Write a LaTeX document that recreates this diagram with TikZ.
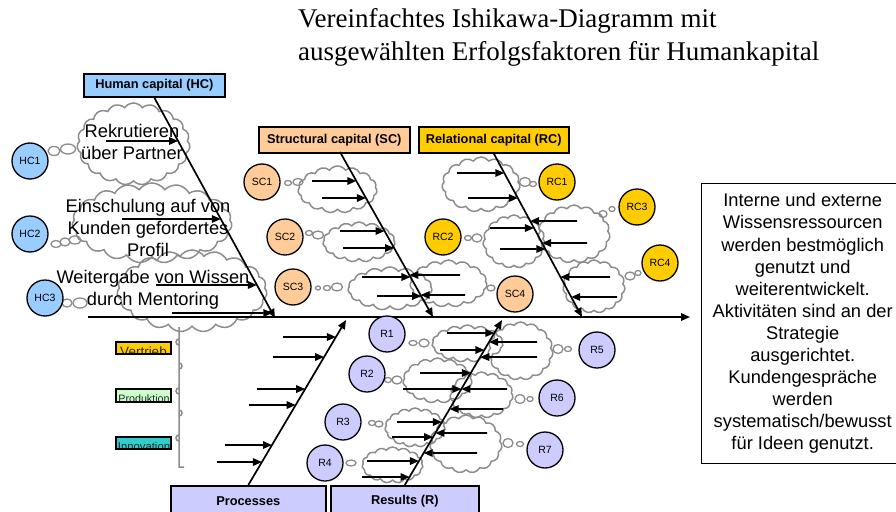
\documentclass[tikz,border=0pt]{standalone}
\usepackage{fontspec}
\setmainfont{Liberation Serif}
\newfontfamily\arialf{Liberation Sans}
\usetikzlibrary{shapes.symbols,arrows.meta}

\definecolor{hcblue}{HTML}{99CCFF}
\definecolor{scpeach}{HTML}{FFCC99}
\definecolor{rcgold}{HTML}{FFCC00}
\definecolor{rlav}{HTML}{CCCCFF}
\definecolor{prodgreen}{HTML}{CCFFCC}
\definecolor{innoteal}{HTML}{33CCCC}
\definecolor{puffgray}{HTML}{8C8C8C}

\tikzset{
  catbox/.style={draw=black, line width=1.6pt, anchor=north west, inner sep=0pt,
    font=\arialf\bfseries\fontsize{12.8}{14}\selectfont},
  factor/.style={circle, draw=black, line width=1.3pt, minimum size=36pt, inner sep=0pt,
    font=\arialf\fontsize{10.5}{12}\selectfont},
  puff/.style={cloud, draw=puffgray, line width=1.5pt, cloud puffs=15,
    cloud puff arc=110, inner sep=0pt},
  bigpuff/.style={puff, cloud puffs=19},
  bead/.style={draw=puffgray, line width=1.3pt},
  bone/.style={line width=1.7pt, -{Triangle[length=9pt,width=7.5pt]}},
  twig/.style={line width=1.6pt, -{Triangle[length=9pt,width=7.5pt]}},
  cause/.style={align=center, font=\arialf\fontsize{18.3}{22}\selectfont, inner sep=0pt},
  legendtxt/.style={anchor=base, inner sep=0pt, text=black!85},
  legendframe/.style={draw=black, line width=1.4pt},
}

% a horizontal cause arrow that ends where it meets the bone #3--#4
\newcommand\twig[4]{%
  \coordinate (twS) at (#1,#2);
  \coordinate (twR) at ({#1+10},#2);
  \draw[twig] (twS) -- (intersection of twS--twR and #3--#4);
}

\begin{document}
\begin{tikzpicture}[x=1pt,y=-1pt]
\useasboundingbox (0,0) rectangle (896,511);
\clip (0,0) rectangle (896,511);

% title
\node[anchor=base west, font=\fontsize{27}{32}\selectfont, inner sep=0pt] (title1) at (298,28)
  {Vereinfachtes Ishikawa-Diagramm mit};
\node[anchor=base west, font=\fontsize{27}{32}\selectfont, inner sep=0pt] (title2) at (298,60)
  {ausgewählten Erfolgsfaktoren für Humankapital};

% clouds
\node[bigpuff, minimum width=113pt, minimum height=82pt] (cHC1) at (133.5,144) {};
\node[bigpuff, minimum width=160pt, minimum height=80pt] (cHC2) at (152,223) {};
\node[bigpuff, minimum width=150pt, minimum height=82pt] (cHC3) at (192,291) {};
\node[puff, minimum width=79pt, minimum height=47pt] (cSC1) at (337.5,189.5) {};
\node[puff, minimum width=72pt, minimum height=40pt] (cSC2) at (359,242) {};
\node[puff, minimum width=84pt, minimum height=43pt] (cSC3) at (390,288.5) {};
\node[puff, minimum width=77pt, minimum height=47pt] (cSC4) at (448.5,283.5) {};
\node[puff, minimum width=78pt, minimum height=55pt] (cRC1) at (481,184.5) {};
\node[puff, minimum width=62pt, minimum height=53pt] (cRC2) at (514,241.5) {};
\node[puff, minimum width=72pt, minimum height=58pt] (cRC3) at (574,234) {};
\node[puff, minimum width=62pt, minimum height=53pt] (cRC4) at (594,286.5) {};
\node[puff, minimum width=71pt, minimum height=37pt] (cR1) at (467.5,343.5) {};
\node[puff, minimum width=65pt, minimum height=58pt] (cR5) at (520.5,351) {};
\node[puff, minimum width=69pt, minimum height=45pt] (cR2) at (437.5,380.5) {};
\node[puff, minimum width=63pt, minimum height=46pt] (cR6) at (481.5,395) {};
\node[puff, minimum width=60pt, minimum height=39pt] (cR3) at (415,427.5) {};
\node[puff, minimum width=72pt, minimum height=58pt] (cR7) at (466,444) {};
\node[puff, minimum width=61pt, minimum height=36pt] (cR4) at (392.5,465) {};

% bubble tails linking factors to their clouds
\draw[bead] (54,151) ellipse [x radius=6, y radius=4.5];
\draw[bead] (68,149) ellipse [x radius=7.5, y radius=5];
\draw[bead] (56,244) ellipse [x radius=5, y radius=3.5];
\draw[bead] (65,242) ellipse [x radius=5, y radius=4];
\draw[bead] (75,240) ellipse [x radius=6, y radius=4];
\draw[bead] (67,303) ellipse [x radius=5, y radius=4];
\draw[bead] (80,303) ellipse [x radius=7, y radius=5];
\draw[bead] (288,183) ellipse [x radius=3.5, y radius=2.5];
\draw[bead] (298,182) ellipse [x radius=5, y radius=3.5];
\draw[bead] (309,233) ellipse [x radius=3.5, y radius=2.5];
\draw[bead] (318,235) ellipse [x radius=5.5, y radius=4];
\draw[bead] (318,288) ellipse [x radius=2.5, y radius=2];
\draw[bead] (327,288) ellipse [x radius=3.5, y radius=2.5];
\draw[bead] (337,287) ellipse [x radius=5.5, y radius=4];
\draw[bead] (491,288) ellipse [x radius=4, y radius=3];
\draw[bead] (525,182) ellipse [x radius=5.5, y radius=4.5];
\draw[bead] (533,184) ellipse [x radius=3.5, y radius=2.5];
\draw[bead] (468,238) ellipse [x radius=3.5, y radius=2.5];
\draw[bead] (477,238) ellipse [x radius=5, y radius=4];
\draw[bead] (603,214) ellipse [x radius=4, y radius=3.5];
\draw[bead] (612,209) ellipse [x radius=3, y radius=2.5];
\draw[bead] (630,276) ellipse [x radius=5, y radius=4];
\draw[bead] (638,273) ellipse [x radius=3, y radius=2.5];
\draw[bead] (413,343) ellipse [x radius=4, y radius=2.5];
\draw[bead] (424,343) ellipse [x radius=5, y radius=4];
\draw[bead] (388,380) ellipse [x radius=3.5, y radius=2.5];
\draw[bead] (397,380) ellipse [x radius=5, y radius=4];
\draw[bead] (372,423) ellipse [x radius=3.5, y radius=2.5];
\draw[bead] (379,424) ellipse [x radius=4, y radius=3];
\draw[bead] (351,463) ellipse [x radius=5, y radius=3];
\draw[bead] (558,349) ellipse [x radius=5, y radius=4.5];
\draw[bead] (568,349) ellipse [x radius=3.5, y radius=2.5];
\draw[bead] (520,399) ellipse [x radius=5, y radius=4.5];
\draw[bead] (530,399) ellipse [x radius=3, y radius=2.5];
\draw[bead] (508,443) ellipse [x radius=5, y radius=4.5];
\draw[bead] (520,444) ellipse [x radius=3.5, y radius=2.5];

% grey brace below the last human-capital cloud
\draw[draw=puffgray, line width=1.5pt]
  (179,327) -- (179,345) arc[start angle=90, end angle=270, radius=3]
  -- (179,369) arc[start angle=90, end angle=-90, radius=3]
  -- (179,394) arc[start angle=90, end angle=270, radius=3]
  -- (179,416) arc[start angle=90, end angle=-90, radius=3]
  -- (179,441) arc[start angle=90, end angle=270, radius=3]
  -- (179,467) -- (184,467);

% category boxes
\node[catbox, fill=hcblue, minimum width=141pt, minimum height=23pt] (hcb) at (83,73) {Human capital (HC)};
\node[catbox, fill=scpeach, minimum width=151pt, minimum height=26pt] (scb) at (258,126) {Structural capital (SC)};
\node[catbox, fill=rcgold, minimum width=150pt, minimum height=26pt] (rcb) at (418,126) {Relational capital (RC)};
\node[catbox, fill=rlav, minimum width=155pt, minimum height=30pt] (pb) at (170,485) {Processes};
\node[catbox, fill=rlav, minimum width=148pt, minimum height=30pt] (rb) at (330,485) {Results (R)};

% bones and spine
\coordinate (spL) at (88,317);
\coordinate (spR) at (690,317);
\coordinate (hcS) at (hcb.south);
\coordinate (hcE) at (275,318);
\coordinate (scS) at (340,152);
\coordinate (scE) at (433,317);
\coordinate (rcS) at (rcb.south);
\coordinate (rcE) at (582,317);
\coordinate (pS) at (pb.north);
\coordinate (pE) at (346,320);
\coordinate (rS) at (rb.north);
\coordinate (rE) at (502,320);

\draw[bone] (spL) -- (spR);
\draw[bone] (hcS) -- (hcE);
\draw[bone] (scS) -- (scE);
\draw[bone] (rcS) -- (rcE);
\draw[bone] (pS) -- (pE);
\draw[bone] (rS) -- (rE);

% cause arrows
\twig{106}{141}{hcS}{hcE}
\twig{122}{219}{hcS}{hcE}
\twig{156}{285}{hcS}{hcE}
\twig{172}{313}{hcS}{hcE}

\twig{312}{181}{scS}{scE}
\twig{322}{198}{scS}{scE}
\twig{340}{231}{scS}{scE}
\twig{343}{248}{scS}{scE}
\twig{362}{277}{scS}{scE}
\twig{377}{296}{scS}{scE}
\twig{460}{275}{scS}{scE}
\twig{465}{295}{scS}{scE}

\twig{457}{173}{rcS}{rcE}
\twig{468}{198}{rcS}{rcE}
\twig{490}{228}{rcS}{rcE}
\twig{500}{249}{rcS}{rcE}
\twig{577}{221}{rcS}{rcE}
\twig{587}{243}{rcS}{rcE}
\twig{610}{277}{rcS}{rcE}
\twig{617}{297}{rcS}{rcE}

\twig{283}{337}{pS}{pE}
\twig{273}{357}{pS}{pE}
\twig{257}{389}{pS}{pE}
\twig{249}{405}{pS}{pE}
\twig{225}{445}{pS}{pE}
\twig{217}{462}{pS}{pE}

\twig{447}{333}{rS}{rE}
\twig{440}{350}{rS}{rE}
\twig{537}{342}{rS}{rE}
\twig{537}{357}{rS}{rE}
\twig{420}{373}{rS}{rE}
\twig{403}{389}{rS}{rE}
\twig{507}{389}{rS}{rE}
\twig{503}{409}{rS}{rE}
\twig{397}{422}{rS}{rE}
\twig{392}{437}{rS}{rE}
\twig{487}{433}{rS}{rE}
\twig{477}{453}{rS}{rE}
\twig{367}{461}{rS}{rE}
\twig{362}{477}{rS}{rE}

% human-capital causes
\node[cause] (tHC1) at (132,142) {Rekrutieren\\über Partner};
\node[cause] (tHC2) at (148,228) {Einschulung auf von\\Kunden gefordertes\\Profil};
\node[cause] (tHC3) at (153,290) {Weitergabe von Wissen\\durch Mentoring};

% factor circles
\node[factor, fill=hcblue] (HC1) at (30,161) {HC1};
\node[factor, fill=hcblue] (HC2) at (30,234) {HC2};
\node[factor, fill=hcblue] (HC3) at (45,298) {HC3};
\node[factor, fill=scpeach] (SC1) at (262,182) {SC1};
\node[factor, fill=scpeach] (SC2) at (285,237) {SC2};
\node[factor, fill=scpeach] (SC3) at (293,287) {SC3};
\node[factor, fill=scpeach] (SC4) at (515,294) {SC4};
\node[factor, fill=rcgold] (RC1) at (557,182) {RC1};
\node[factor, fill=rcgold] (RC2) at (443,237) {RC2};
\node[factor, fill=rcgold] (RC3) at (637,207) {RC3};
\node[factor, fill=rcgold] (RC4) at (660,263) {RC4};
\node[factor, fill=rlav] (R1) at (387,334) {R1};
\node[factor, fill=rlav] (R2) at (367,374) {R2};
\node[factor, fill=rlav] (R3) at (343,422) {R3};
\node[factor, fill=rlav] (R4) at (325,463) {R4};
\node[factor, fill=rlav] (R5) at (597,350) {R5};
\node[factor, fill=rlav] (R6) at (557,398) {R6};
\node[factor, fill=rlav] (R7) at (545,450) {R7};

% area legend (labels are cut off by their boxes)
\begin{scope}
  \clip (116,342) rectangle (171,354);
  \fill[rcgold] (116,342) rectangle (171,354);
  \node[legendtxt, font=\arialf\fontsize{13.5}{14}\selectfont] (lgV) at (143.5,356.5) {Vertrieb};
\end{scope}
\draw[legendframe] (116,342) rectangle (171,354);
\begin{scope}
  \clip (116,389) rectangle (171,402);
  \fill[prodgreen] (116,389) rectangle (171,402);
  \node[legendtxt, font=\arialf\fontsize{10.7}{12}\selectfont] (lgP) at (144,402.5) {Produktion};
\end{scope}
\draw[legendframe] (116,389) rectangle (171,402);
\begin{scope}
  \clip (116,437) rectangle (171,449);
  \fill[innoteal] (116,437) rectangle (171,449);
  \node[legendtxt, font=\arialf\fontsize{11.3}{12}\selectfont] (lgI) at (144,450) {Innovation};
\end{scope}
\draw[legendframe] (116,437) rectangle (171,449);

% outcome box
\node[draw=black, line width=1.4pt, anchor=north west, minimum width=202pt, minimum height=280pt,
  inner sep=0pt, align=center, font=\arialf\fontsize{18.3}{22.1}\selectfont] (goal) at (701,183)
  {Interne und externe\\Wissensressourcen\\werden bestmöglich\\genutzt und\\weiterentwickelt.\\Aktivitäten sind an der\\Strategie\\ausgerichtet.\\Kundengespräche\\werden\\systematisch/bewusst\\für Ideen genutzt.};
\end{tikzpicture}
\end{document}
